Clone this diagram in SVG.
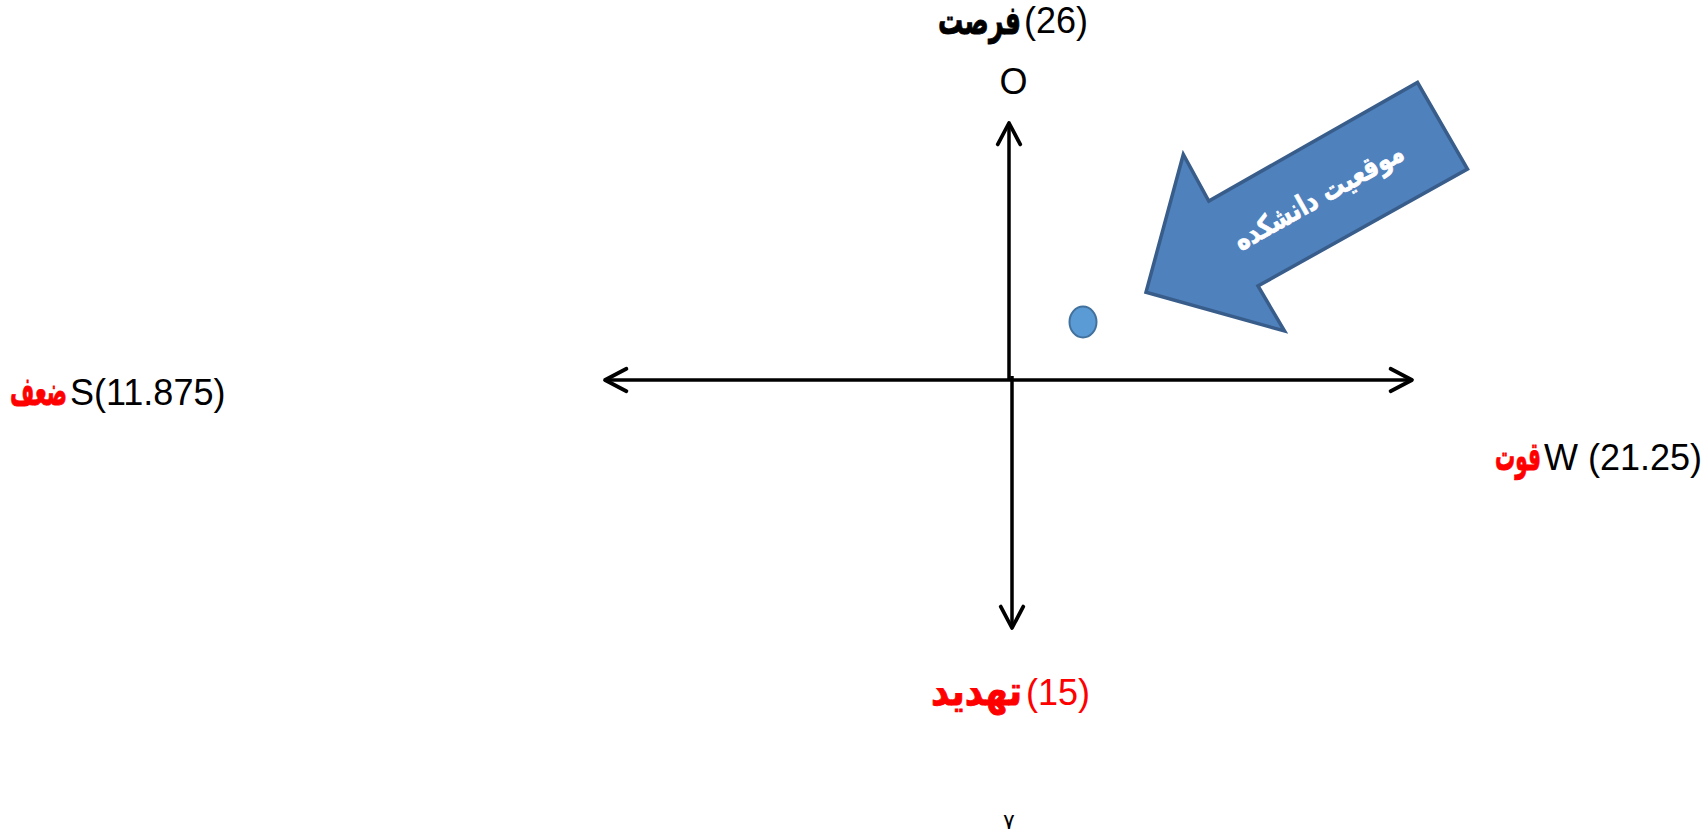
<svg xmlns="http://www.w3.org/2000/svg" width="1707" height="835" viewBox="0 0 1707 835">
<style>
.lat{font-family:"Liberation Sans",Arial,sans-serif;font-size:36px;fill:#000}
.ar{font-family:"DejaVu Sans","Noto Sans",sans-serif;font-weight:bold;font-size:40px;stroke-width:0.9}
.red{fill:#ff0000;stroke:#ff0000}
.blk{fill:#000;stroke:#000}
.axis{stroke:#000;stroke-width:3.5;fill:none}
</style>
<defs>
<marker id="open" markerUnits="userSpaceOnUse" markerWidth="30" markerHeight="30" viewBox="-24 -14 28 28" refX="0" refY="0" orient="auto-start-reverse">
<path d="M-20,-10.5 L0,0 L-20,10.5" fill="none" stroke="#000" stroke-width="3.5" stroke-linejoin="round" stroke-linecap="round"/>
</marker>
</defs>
<rect width="1707" height="835" fill="#fff"/>
<g id="connectors">
<line class="axis" x1="605" y1="380" x2="1412" y2="380" marker-start="url(#open)" marker-end="url(#open)"/>
<line class="axis" x1="1009" y1="380" x2="1009" y2="123" marker-end="url(#open)"/>
<line class="axis" x1="1012" y1="376" x2="1012" y2="628" marker-end="url(#open)"/>
</g>
<g id="point">
<ellipse cx="1083" cy="322" rx="13.5" ry="15.5" fill="#5B9BD5" stroke="#41719C" stroke-width="2"/>
</g>
<g id="callout">
<polygon points="1417.5,82.5 1467.5,169 1258,286 1284.5,331 1146,292.3 1183.3,154.5 1208.8,201" fill="#4F81BD" stroke="#385D8A" stroke-width="3.5" stroke-linejoin="miter"/>
<text transform="translate(1319,197) rotate(-29.3)" y="9" text-anchor="middle" font-family="DejaVu Sans, sans-serif" font-weight="bold" font-size="29" fill="#fff" stroke="#fff" stroke-width="0.7" textLength="190" lengthAdjust="spacingAndGlyphs">موقعیت دانشکده</text>
</g>
<g id="label-top">
<text class="ar blk" x="1021" y="34" text-anchor="end" font-size="37" textLength="83" lengthAdjust="spacingAndGlyphs">فرصت</text>
<text class="lat" x="1024" y="33">(26)</text>
</g>
<g id="label-o">
<text class="lat" x="1013.5" y="94" text-anchor="middle">O</text>
</g>
<g id="label-left">
<text class="ar red" x="67" y="405" text-anchor="end" textLength="57" lengthAdjust="spacingAndGlyphs">ضعف</text>
<text class="lat" x="70" y="405" font-size="34.5">S(11.875)</text>
</g>
<g id="label-right">
<text class="ar red" x="1541" y="470" text-anchor="end" textLength="46" lengthAdjust="spacingAndGlyphs">قوت</text>
<text class="lat" x="1544" y="470">W (21.25)</text>
</g>
<g id="label-bottom">
<text class="ar red" x="1022" y="705" text-anchor="end" font-size="44" textLength="91" lengthAdjust="spacingAndGlyphs">تهدید</text>
<text class="lat" x="1026" y="705" font-size="38" style="fill:#ff0000">(15)</text>
</g>
<g id="page-number">
<text x="1009" y="829" text-anchor="middle" font-family="DejaVu Sans, sans-serif" font-size="22" fill="#000">۷</text>
</g>
</svg>
